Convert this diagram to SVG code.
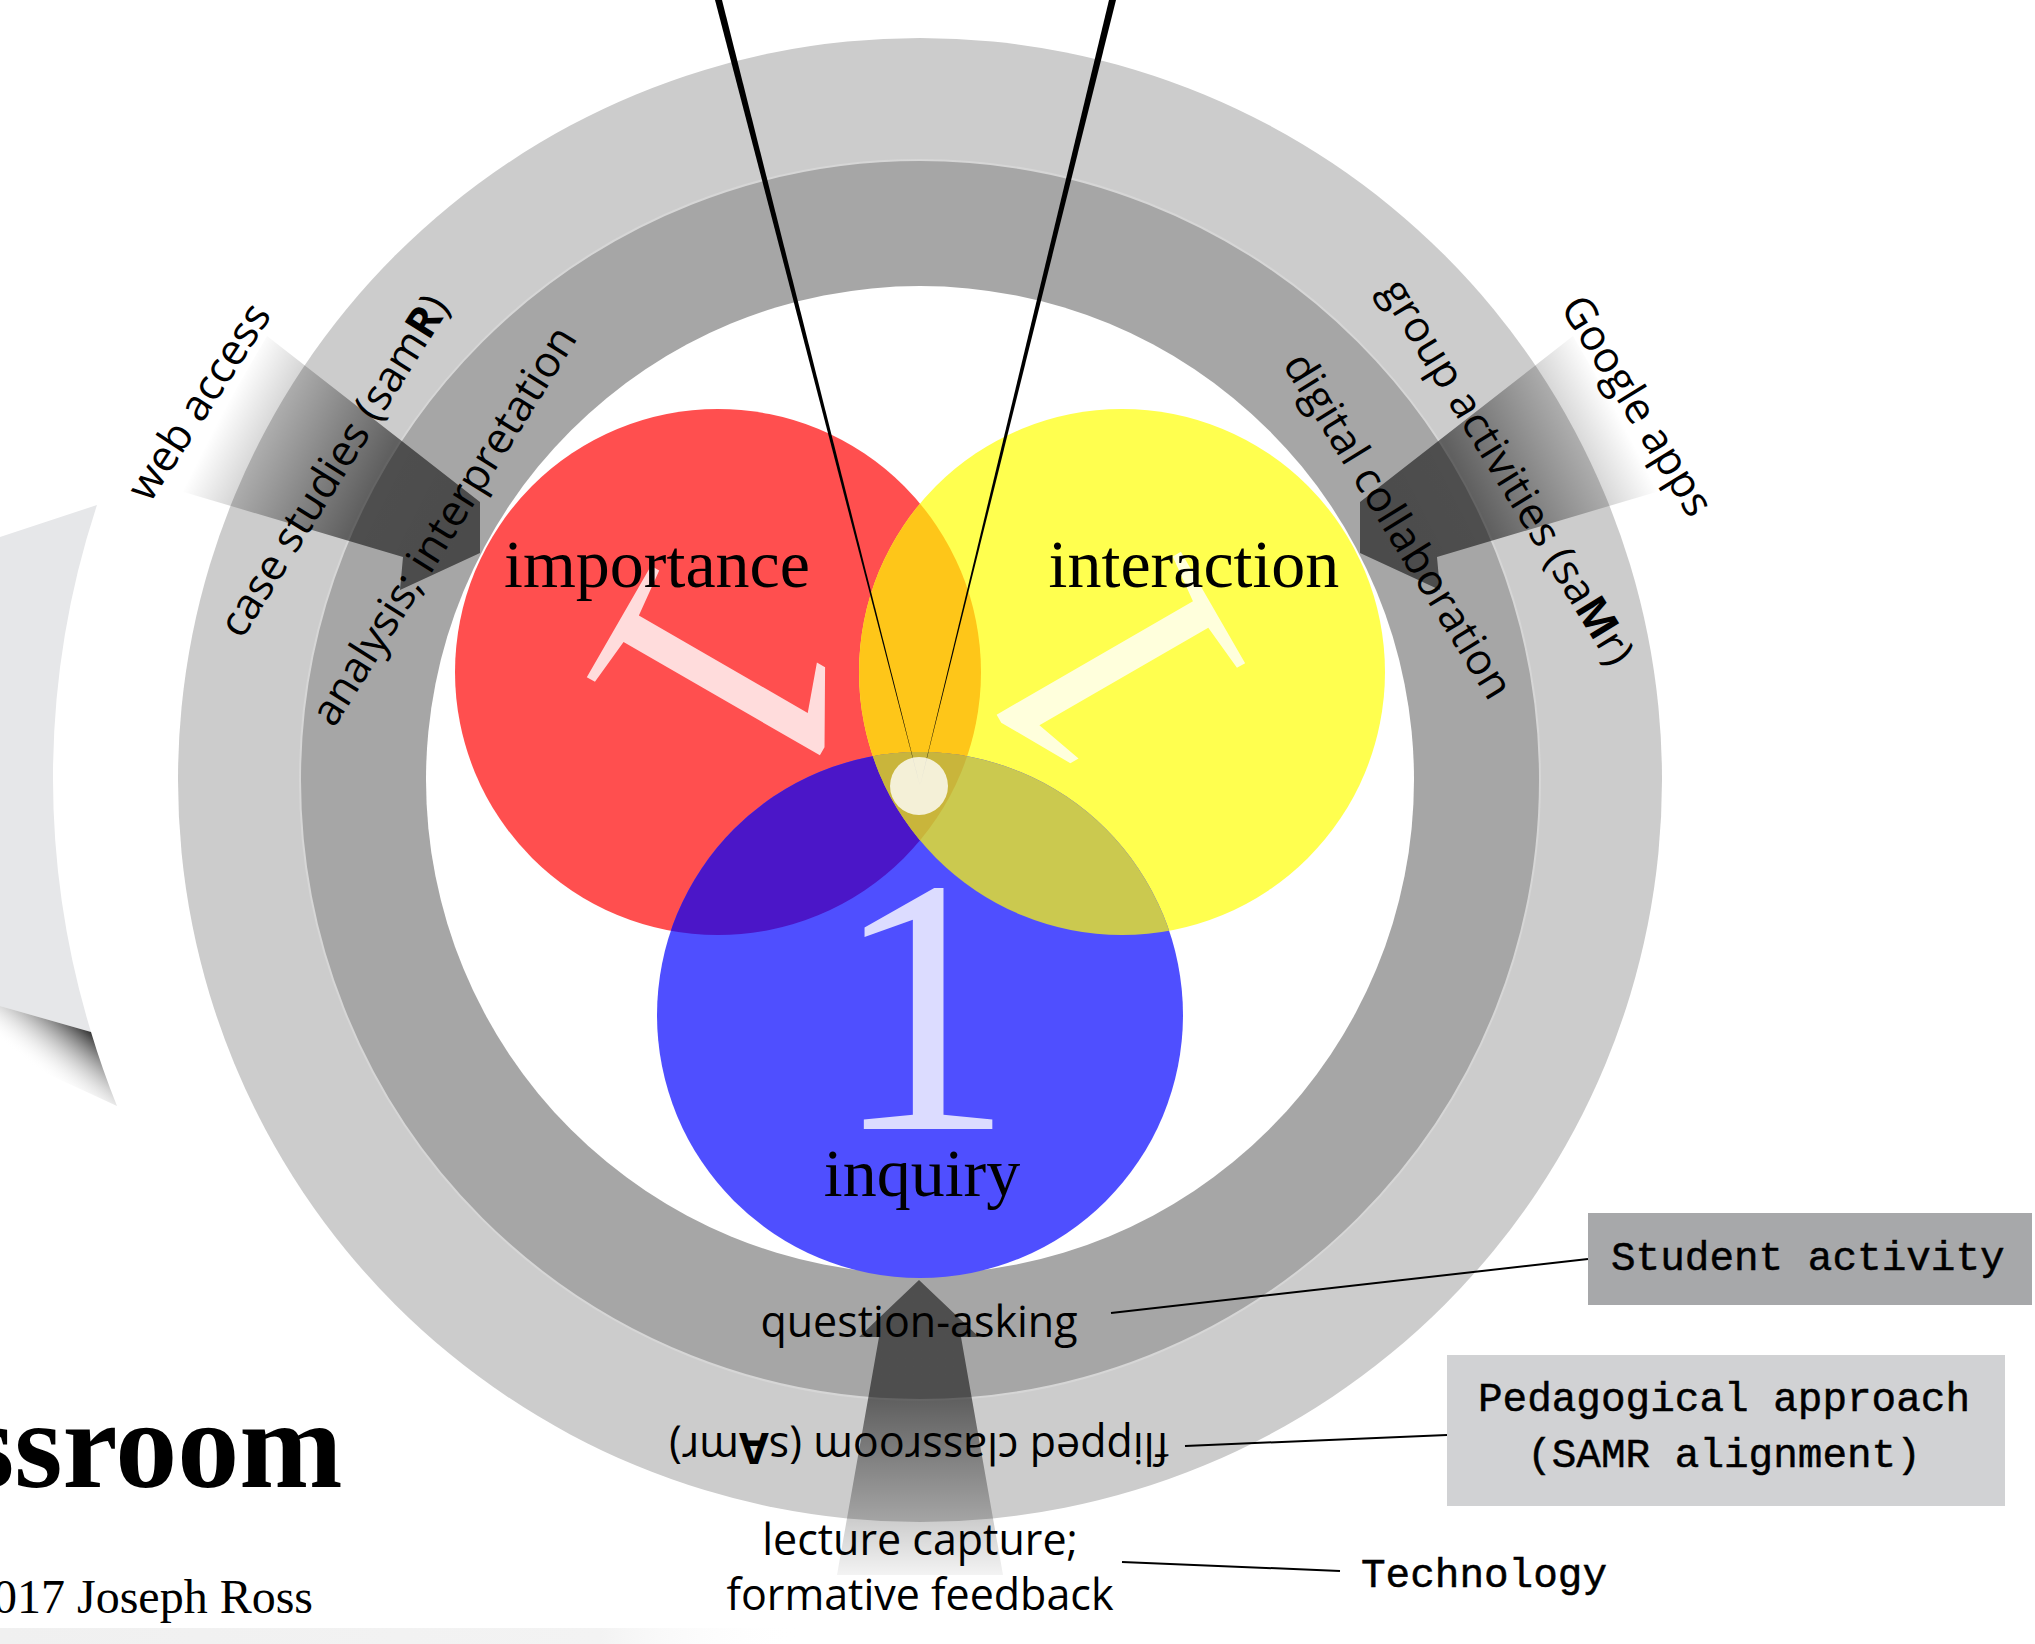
<svg xmlns="http://www.w3.org/2000/svg" width="2035" height="1644" viewBox="0 0 2035 1644">
<defs>
<style>
.sans{font-family:'Open Sans','Noto Sans','DejaVu Sans',sans-serif;font-size:43px;fill:#000}
.serif{font-family:'Liberation Serif','Times New Roman',serif;fill:#000}
.mono{font-family:'Liberation Mono','Courier New',monospace;font-size:41px;fill:#000;stroke:#000;stroke-width:0.5}
.conn{stroke:#000;stroke-width:2;fill:none}
.one{font-family:'Liberation Serif','Times New Roman',serif;font-size:365px;fill:#fff;fill-opacity:0.8}
.b{font-weight:700}
</style>
<clipPath id="cR"><circle cx="718" cy="672" r="263"/></clipPath>
<clipPath id="cY"><circle cx="1122" cy="672" r="263"/></clipPath>
<linearGradient id="gL" gradientUnits="userSpaceOnUse" x1="222" y1="413" x2="470" y2="540">
<stop offset="0" stop-color="#000" stop-opacity="0"/>
<stop offset="0.6" stop-color="#000" stop-opacity="0.53"/>
<stop offset="1" stop-color="#000" stop-opacity="0.55"/>
</linearGradient>
<linearGradient id="gR" gradientUnits="userSpaceOnUse" x1="1618" y1="413" x2="1370" y2="540">
<stop offset="0" stop-color="#000" stop-opacity="0"/>
<stop offset="0.6" stop-color="#000" stop-opacity="0.53"/>
<stop offset="1" stop-color="#000" stop-opacity="0.55"/>
</linearGradient>
<linearGradient id="gB" gradientUnits="userSpaceOnUse" x1="0" y1="1280" x2="0" y2="1592">
<stop offset="0" stop-color="#000" stop-opacity="0.53"/>
<stop offset="0.385" stop-color="#000" stop-opacity="0.53"/>
<stop offset="1" stop-color="#000" stop-opacity="0"/>
</linearGradient>
<linearGradient id="gShadow" gradientUnits="userSpaceOnUse" x1="90" y1="1030" x2="50" y2="1080">
<stop offset="0" stop-color="#2e2e2e"/>
<stop offset="1" stop-color="#fff" stop-opacity="0"/>
</linearGradient>
<linearGradient id="gFoot" x1="0" y1="0" x2="1" y2="0">
<stop offset="0" stop-color="#f0f0f0"/>
<stop offset="0.75" stop-color="#f3f3f3"/>
<stop offset="1" stop-color="#fff" stop-opacity="0"/>
</linearGradient>
</defs>

<rect width="2035" height="1644" fill="#fff"/>

<g id="page-decor">
<path d="M0,537 L97,505 A868,868 0 0 0 91,1032 L0,1006 Z" fill="#e6e7e9"/>
<path d="M0,1006 L91,1032 A868,868 0 0 0 117,1106 L0,1052 Z" fill="url(#gShadow)"/>
<rect x="0" y="1628" width="800" height="16" fill="url(#gFoot)"/>
</g>

<g id="rings">
<circle cx="920" cy="780" r="742" fill="#cccccc"/>
<circle cx="920" cy="780" r="620" fill="#a6a6a6" stroke="#d6d6d6" stroke-width="2"/>
<circle cx="920" cy="780" r="494" fill="#fff"/>
</g>

<g id="pointers">
<polygon points="267,336 480,502 480,553 400,590 403,557 177,490" fill="url(#gL)"/>
<polygon points="1573,336 1360,502 1360,553 1440,590 1437,557 1663,490" fill="url(#gR)"/>
<polygon points="919,1280 979,1337 961,1337 1003,1575 837,1575 879,1337 859,1337" fill="url(#gB)"/>
</g>

<g id="circle-importance">
<circle cx="718" cy="672" r="263" fill="#ff4f4f"/>
<text class="one" text-anchor="middle" x="923" y="1129" transform="rotate(120 920 786)">1</text>
</g>
<g id="circle-interaction">
<circle cx="1122" cy="672" r="263" fill="#ffff4f"/>
<text class="one" text-anchor="middle" x="923" y="1129" transform="rotate(-120 920 786)">1</text>
</g>
<g id="circle-inquiry">
<circle cx="920" cy="1015" r="263" fill="#4f4fff"/>
<text class="one" text-anchor="middle" x="923" y="1129">1</text>
</g>
<g id="overlaps">
<circle cx="1122" cy="672" r="263" fill="#fec619" clip-path="url(#cR)"/>
<circle cx="920" cy="1015" r="263" fill="#4b16c8" clip-path="url(#cR)"/>
<circle cx="920" cy="1015" r="263" fill="#cbc94f" clip-path="url(#cY)"/>
<g clip-path="url(#cR)"><circle cx="920" cy="1015" r="263" fill="#c9b53b" clip-path="url(#cY)"/></g>
</g>

<g id="sightlines">
<polygon points="715,0 722,0 920,786" fill="#000"/>
<polygon points="1109,0 1116,0 920,786" fill="#000"/>
</g>
<g id="center-dot">
<circle cx="919" cy="786" r="29" fill="#fff" fill-opacity="0.8"/>
</g>

<g id="circle-labels">
<text class="serif" font-size="68" text-anchor="middle" x="657" y="587">importance</text>
<text class="serif" font-size="68" text-anchor="middle" x="1194" y="587">interaction</text>
<text class="serif" font-size="68" text-anchor="middle" x="922" y="1196">inquiry</text>
</g>

<g id="left-labels">
<text class="sans" text-anchor="middle" transform="translate(201,403) rotate(-57)" x="0" y="12">web access</text>
<text class="sans" text-anchor="middle" transform="translate(336,467) rotate(-58)" x="0" y="12">case studies (sam<tspan class="b">R</tspan>)</text>
<text class="sans" text-anchor="middle" transform="translate(446,527) rotate(-58)" x="0" y="12">analysis; interpretation</text>
</g>

<g id="right-labels">
<text class="sans" text-anchor="middle" transform="translate(1635,407) rotate(58.5)" x="0" y="12">Google apps</text>
<text class="sans" text-anchor="middle" transform="translate(1505,473) rotate(58.5)" x="0" y="12">group activities (sa<tspan class="b">M</tspan>r)</text>
<text class="sans" text-anchor="middle" transform="translate(1396,527) rotate(58.5)" x="0" y="12">digital collaboration</text>
</g>

<g id="bottom-labels">
<text class="sans" text-anchor="middle" x="919" y="1337">question-asking</text>
<text class="sans" text-anchor="middle" x="919" y="1453" transform="rotate(180 919 1443)">flipped classroom (s<tspan class="b">A</tspan>mr)</text>
<text class="sans" text-anchor="middle" x="920" y="1555">lecture capture;</text>
<text class="sans" text-anchor="middle" x="920" y="1610">formative feedback</text>
</g>

<g id="connectors">
<line class="conn" x1="1111" y1="1313" x2="1588" y2="1259"/>
<line class="conn" x1="1185" y1="1446" x2="1447" y2="1435"/>
<line class="conn" x1="1122" y1="1562" x2="1340" y2="1571"/>
</g>

<g id="legend-student-activity">
<rect x="1588" y="1213" width="444" height="92" fill="#a7a8aa"/>
<text class="mono" x="1611" y="1270">Student activity</text>
</g>
<g id="legend-pedagogical-approach">
<rect x="1447" y="1355" width="558" height="151" fill="#d1d2d4"/>
<text class="mono" text-anchor="middle" x="1724" y="1411">Pedagogical approach</text>
<text class="mono" text-anchor="middle" x="1724" y="1467">(SAMR alignment)</text>
</g>
<g id="legend-technology">
<text class="mono" x="1361" y="1587">Technology</text>
</g>

<g id="title">
<text class="serif" font-size="124" font-weight="700" fill="#231f20" x="-34" y="1487">ssroom</text>
<text class="serif" font-size="48" fill="#231f20" x="-7" y="1613">017 Joseph Ross</text>
</g>
</svg>
